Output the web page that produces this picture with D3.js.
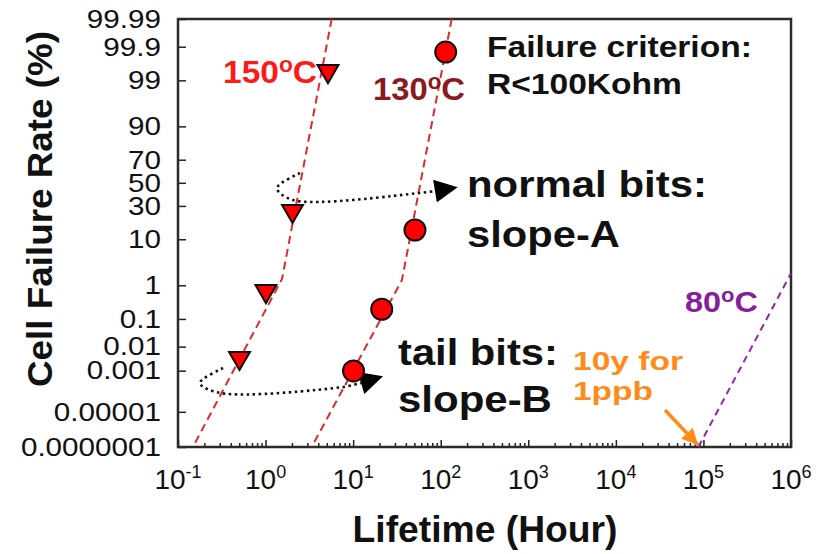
<!DOCTYPE html>
<html lang="en">
<head>
<meta charset="UTF-8">
<title>Cell Failure Rate vs Lifetime</title>
<style>
  body { margin: 0; background: #fff; }
  svg { display: block; font-family: "Liberation Sans", Arial, sans-serif; }
</style>
</head>
<body>
<svg id="chart" width="830" height="554"></svg>
<script src="https://cdn.jsdelivr.net/npm/d3@7"></script>
<script>
// measured points: lifetime (hours) and cumulative failure (%)
const t150 = [5.16, 2.03, 1.01, 0.504];
const f150 = [99.44, 26.1, 0.70, 0.0035];
const t130 = [114, 50.8, 21.2, 10.1];
const f130 = [99.85, 14.2, 0.205, 0.00097];

// fitted lines: upper part = slope-A, lower part = slope-B
const fit150T = [5.69, 1.54, 0.148];
const fit150F = [99.99, 1.45, 0.0000001];
const fit130T = [133.5, 36.1, 3.36];
const fit130F = [99.99, 1.37, 0.0000001];
const fit80T = [87600, 1e6];
const fit80F = [0.0000001, 2.0];

const yTickValues = [99.99, 99.9, 99, 90, 70, 50, 30, 10, 1, 0.1, 0.01, 0.001, 0.00001, 0.0000001];
const yTickLabels = ["99.99", "99.9", "99", "90", "70", "50", "30", "10", "1", "0.1", "0.01", "0.001", "0.00001", "0.0000001"];
const xExponents = [-1, 0, 1, 2, 3, 4, 5, 6];

// dotted guide arrows, also in (hours, %)
const normalArrowT = [2.47, 1.35, 2.06, 58.0, 86];
const normalArrowF = [58.8, 45.3, 34.8, 40.9, 42.6];
const tailArrowT = [0.327, 0.178, 0.302, 7.66, 12.3];
const tailArrowF = [0.00131, 0.000276, 0.000092, 0.000179, 0.000276];
const ppbArrowT = [36400, 86700];
const ppbArrowF = [0.0000125, 0.000000133];

// inverse normal CDF (Acklam)
function probit(p) {
  const a = [-3.969683028665376e+01, 2.209460984245205e+02, -2.759285104469687e+02, 1.383577518672690e+02, -3.066479806614716e+01, 2.506628277459239e+00];
  const b = [-5.447609879822406e+01, 1.615858368580409e+02, -1.556989798598866e+02, 6.680131188771972e+01, -1.328068155288572e+01];
  const c = [-7.784894002430293e-03, -3.223964580411365e-01, -2.400758277161838e+00, -2.549732539343734e+00, 4.374664141464968e+00, 2.938163982698783e+00];
  const d = [7.784695709041462e-03, 3.224671290700398e-01, 2.445134137142996e+00, 3.754408661907416e+00];
  const pl = 0.02425;
  let q, r;
  if (p < pl) {
    q = Math.sqrt(-2 * Math.log(p));
    return (((((c[0]*q+c[1])*q+c[2])*q+c[3])*q+c[4])*q+c[5]) / ((((d[0]*q+d[1])*q+d[2])*q+d[3])*q+1);
  }
  if (p > 1 - pl) {
    q = Math.sqrt(-2 * Math.log(1 - p));
    return -(((((c[0]*q+c[1])*q+c[2])*q+c[3])*q+c[4])*q+c[5]) / ((((d[0]*q+d[1])*q+d[2])*q+d[3])*q+1);
  }
  q = p - 0.5; r = q * q;
  return (((((a[0]*r+a[1])*r+a[2])*r+a[3])*r+a[4])*r+a[5])*q / (((((b[0]*r+b[1])*r+b[2])*r+b[3])*r+b[4])*r+1);
}

const svg = d3.select("#chart");
const plot = { left: 178, right: 791, top: 19, bottom: 447 };

const x = d3.scaleLog().domain([0.1, 1e6]).range([plot.left, plot.right]);
const yz = d3.scaleLinear().domain([probit(1e-9), probit(0.9999)]).range([plot.bottom, plot.top]);
const y = pct => yz(probit(pct / 100));

const line = d3.line().x(d => x(d[0])).y(d => y(d[1]));
const curve = d3.line().x(d => x(d[0])).y(d => y(d[1])).curve(d3.curveCatmullRom);

// arrow heads
const defs = svg.append("defs");
function arrowMarker(id, color, w, h, refX) {
  defs.append("marker")
    .attr("id", id)
    .attr("viewBox", "0 0 10 10")
    .attr("refX", refX).attr("refY", 5)
    .attr("markerUnits", "userSpaceOnUse")
    .attr("markerWidth", w).attr("markerHeight", h)
    .attr("orient", "auto")
    .append("path").attr("d", "M0,0L10,5L0,10Z").attr("fill", color);
}
arrowMarker("headBlack", "#000", 24, 23, 0);
arrowMarker("headOrange", "#ff8c1a", 17, 16, 10);

// axes
const yAxis = d3.axisLeft(yz)
  .tickValues(yTickValues.map(v => probit(v / 100)))
  .tickFormat((d, i) => yTickLabels[i])
  .tickSizeInner(-8).tickSizeOuter(0).tickPadding(17);
const gy = svg.append("g").attr("transform", `translate(${plot.left},0)`).call(yAxis);
gy.select(".domain").remove();
gy.selectAll("line").attr("stroke", "#222").attr("stroke-width", 1.5);
gy.selectAll("text")
  .attr("font-size", 26).attr("fill", "#111")
  .attr("font-family", "Liberation Sans, Arial, sans-serif")
  .each(function() {
    const w = this.getComputedTextLength();
    d3.select(this).attr("textLength", w * 1.14).attr("lengthAdjust", "spacingAndGlyphs");
  });

const minorX = [];
xExponents.slice(0, -1).forEach(e => { for (let k = 2; k <= 9; k++) minorX.push(k * Math.pow(10, e)); });
const gxMajor = svg.append("g").attr("transform", `translate(0,${plot.bottom})`)
  .call(d3.axisBottom(x).tickValues(xExponents.map(e => Math.pow(10, e))).tickFormat("").tickSizeInner(-7).tickSizeOuter(0));
const gxMinor = svg.append("g").attr("transform", `translate(0,${plot.bottom})`)
  .call(d3.axisBottom(x).tickValues(minorX).tickFormat("").tickSizeInner(-4).tickSizeOuter(0));
[gxMajor, gxMinor].forEach(g => {
  g.select(".domain").remove();
  g.selectAll("line").attr("stroke", "#222").attr("stroke-width", 1.5);
});

const xl = svg.append("g").selectAll("text").data(xExponents).join("text")
  .attr("x", e => x(Math.pow(10, e))).attr("y", 489)
  .attr("text-anchor", "middle").attr("font-size", 28).attr("fill", "#111");
xl.append("tspan").text("10");
xl.append("tspan").attr("font-size", 18).attr("dy", -11).text(e => e);

// frame
svg.append("rect")
  .attr("x", plot.left).attr("y", plot.top)
  .attr("width", plot.right - plot.left).attr("height", plot.bottom - plot.top)
  .attr("fill", "none").attr("stroke", "#2b2b2b").attr("stroke-width", 2.5);

// fitted lines
svg.append("path").datum(d3.zip(fit150T, fit150F)).attr("d", line)
  .attr("fill", "none").attr("stroke", "#dc2a30").attr("stroke-width", 2).attr("stroke-dasharray", "8,5");
svg.append("path").datum(d3.zip(fit130T, fit130F)).attr("d", line)
  .attr("fill", "none").attr("stroke", "#dc2a30").attr("stroke-width", 2).attr("stroke-dasharray", "8,5");
svg.append("path").datum(d3.zip(fit80T, fit80F)).attr("d", line)
  .attr("fill", "none").attr("stroke", "#8e2a9e").attr("stroke-width", 2).attr("stroke-dasharray", "7,5");

// dotted guides
[[normalArrowT, normalArrowF], [tailArrowT, tailArrowF]].forEach(([ts, fs]) => {
  svg.append("path").datum(d3.zip(ts, fs)).attr("d", curve)
    .attr("fill", "none").attr("stroke", "#111").attr("stroke-width", 2.6)
    .attr("stroke-dasharray", "2.5,3.5").attr("marker-end", "url(#headBlack)");
});
svg.append("path").datum(d3.zip(ppbArrowT, ppbArrowF)).attr("d", line)
  .attr("fill", "none").attr("stroke", "#ff8c1a").attr("stroke-width", 3.5)
  .attr("marker-end", "url(#headOrange)");

// data points
svg.append("g").selectAll("path").data(d3.zip(t150, f150)).join("path")
  .attr("d", d3.symbol(d3.symbolTriangle, 190))
  .attr("transform", d => `translate(${x(d[0])},${y(d[1])}) rotate(180)`)
  .attr("fill", "#ff0000").attr("stroke", "#111").attr("stroke-width", 2);
svg.append("g").selectAll("circle").data(d3.zip(t130, f130)).join("circle")
  .attr("cx", d => x(d[0])).attr("cy", d => y(d[1])).attr("r", 10.5)
  .attr("fill", "#ff0000").attr("stroke", "#111").attr("stroke-width", 2);

// text helpers
function fitText(px, py, width, opts) {
  const g = svg.append("g").attr("transform", `translate(${px},${py}) rotate(${opts.rotate || 0})`);
  const t = g.append("text")
    .attr("font-size", opts.size).attr("font-weight", "bold")
    .attr("fill", opts.color || "#111").attr("text-anchor", opts.anchor || "start");
  if (opts.text) t.text(opts.text);
  return { t, fit() { const w = t.node().getBBox().width; t.attr("transform", `scale(${width / w},1)`); } };
}
function plain(px, py, width, text, size, color, anchor, rotate) {
  const o = fitText(px, py, width, { text, size, color, anchor, rotate });
  o.fit();
}
function degree(px, py, width, num, size, color) {
  const o = fitText(px, py, width, { size, color });
  o.t.append("tspan").text(num);
  o.t.append("tspan").attr("font-size", size * 0.68).attr("dy", -size * 0.34).text("o");
  o.t.append("tspan").attr("dy", size * 0.34).text("C");
  o.fit();
}

degree(223, 83, 94, "150", 32, "#ff1a1a");
degree(373, 100, 92, "130", 32, "#8b1a22");
degree(685, 312, 73, "80", 30, "#86209a");

plain(487, 57, 265, "Failure criterion:", 30, "#111");
plain(487, 94, 195, "R<100Kohm", 30, "#111");
plain(467, 197, 240, "normal bits:", 37, "#111");
plain(467, 247, 153, "slope-A", 37, "#111");
plain(398, 365, 160, "tail bits:", 37, "#111");
plain(398, 412, 154, "slope-B", 37, "#111");
plain(573, 370, 110, "10y for", 26, "#ff8c1a");
plain(573, 400, 80, "1ppb", 26, "#ff8c1a");

plain(485, 542, 265, "Lifetime (Hour)", 37, "#111", "middle");
plain(52, 209, 356, "Cell Failure Rate (%)", 36, "#111", "middle", -90);
</script>
</body>
</html>
